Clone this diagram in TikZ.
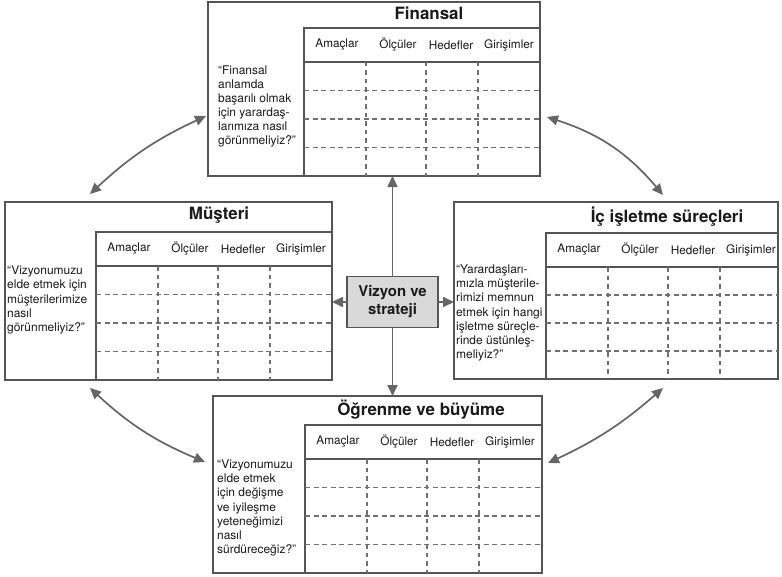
\documentclass[tikz,border=0pt]{standalone}
\usepackage{fontspec}
\setmainfont{TeX Gyre Heros}
\usetikzlibrary{arrows.meta}
\definecolor{framegray}{HTML}{555555}
\definecolor{arrgray}{HTML}{666666}
\definecolor{dashgray}{HTML}{707070}
\definecolor{centerfill}{HTML}{D9D9D9}
\definecolor{txt}{HTML}{1A1A1A}
\tikzset{
  >={Triangle[length=11bp,width=10bp]},
  panel/.style={draw=framegray, line width=1.4bp, anchor=north west, inner sep=0pt, outer sep=0pt},
  frame/.style={draw=framegray, line width=1.4bp},
  dashrow/.style={draw=dashgray, line width=1.2bp, dash pattern=on 5bp off 3.5bp},
  dashcol/.style={draw=dashgray, line width=1.2bp, dash pattern=on 4.5bp off 4bp},
  hdr/.style={text=txt, font=\fontsize{11.8}{14}\selectfont, inner sep=0pt},
  ttl/.style={text=txt, font=\fontsize{17}{20}\selectfont\bfseries, inner sep=0pt},
  quest/.style={text=txt, font=\fontsize{12}{14.2}\selectfont, align=left, anchor=west, inner sep=0pt},
  centerbox/.style={draw=framegray, fill=centerfill, line width=1.4bp, minimum width=91bp, minimum height=51bp, inner sep=0pt, outer sep=0pt, align=center, text=txt, font=\fontsize{15}{18}\selectfont\bfseries},
  arr/.style={draw=arrgray, line width=1.7bp, ->},
  dbl/.style={draw=arrgray, line width=1.7bp, <->},
}
\newcommand{\bsctable}[5]{%
  \pgfmathsetmacro\bscHB{#3+34}%
  \pgfmathsetmacro\bscRH{(#5-#3-34)/4}%
  \draw[frame] (#2,#5) -- (#2,#3) -- (#4,#3);
  \draw[frame] (#2,\bscHB) -- (#4,\bscHB);
  \foreach \k in {1,2,3} \draw[dashrow] (#2,{\bscHB+\k*\bscRH}) -- (#4,{\bscHB+\k*\bscRH});
  \foreach \c in {62,122,174} \draw[dashcol] ({#2+\c},\bscHB) -- ({#2+\c},#5);
  \node[hdr] (#1-a) at ({#2+33},{#3+17}) {Amaçlar};
  \node[hdr] (#1-b) at ({#2+94},{#3+17}) {Ölçüler};
  \node[hdr] (#1-c) at ({#2+147},{#3+17}) {Hedefler};
  \node[hdr] (#1-d) at ({#2+205},{#3+17}) {Girişimler};
}
\begin{document}
\begin{tikzpicture}[x=1bp,y=-1bp]
\useasboundingbox (0,0) rectangle (782,577);
\fill[white] (0,0) rectangle (782,577);

% panels
\node[panel, minimum width=332bp, minimum height=174bp] (fin) at (208,2) {};
\node[panel, minimum width=327bp, minimum height=178bp] (mus) at (5,202) {};
\node[panel, minimum width=324bp, minimum height=177bp] (ic) at (454,202) {};
\node[panel, minimum width=329bp, minimum height=177bp] (ogr) at (213,396) {};

% tables
\bsctable{fin}{304}{28}{540}{176}
\bsctable{mus}{96}{232}{332}{380}
\bsctable{ic}{546}{233}{778}{379}
\bsctable{ogr}{305}{425}{542}{573}

% titles
\node[ttl] (fin-t) at (429,13) {Finansal};
\node[ttl] (mus-t) at (219,215) {Müşteri};
\node[ttl] (ic-t) at (667,217) {İç işletme süreçleri};
\node[ttl] (ogr-t) at (421,410) {Öğrenme ve büyüme};

% questions
\node[quest] (fin-q) at (218,106.5) {“Finansal\\anlamda\\başarılı olmak\\için yarardaş-\\larımıza nasıl\\görünmeliyiz?”};
\node[quest] (mus-q) at (7,300) {“Vizyonumuzu\\elde etmek için\\müşterilerimize\\nasıl\\görünmeliyiz?”};
\node[quest] (ic-q) at (456,313) {“Yarardaşları-\\mızla müşterile-\\rimizi memnun\\etmek için hangi\\işletme süreçle-\\rinde üstünleş-\\meliyiz?”};
\node[quest] (ogr-q) at (217,508) {“Vizyonumuzu\\elde etmek\\için değişme\\ve iyileşme\\yeteneğimizi\\nasıl\\sürdüreceğiz?”};

% center
\node[centerbox] (vs) at (392.5,302) {Vizyon ve\\strateji};

% straight arrows
\draw[arr] (vs.north) -- (vs.north |- fin.south);
\draw[arr] (vs.south) -- (vs.south |- ogr.north);
\draw[arr] (vs.west) -- (vs.west -| mus.east);
\draw[arr] (vs.east) -- (vs.east -| ic.west);

% curved arrows
\coordinate (tl1) at (90,194);
\coordinate (tl2) at (206,116);
\coordinate (tr1) at (547,117);
\coordinate (tr2) at (663,195);
\coordinate (bl1) at (90,388);
\coordinate (bl2) at (205,462);
\coordinate (br1) at (548,463);
\coordinate (br2) at (663,388);
\draw[dbl] (tl1) to[bend left=9] (tl2);
\draw[dbl] (tr1) to[bend left=16] (tr2);
\draw[dbl] (bl1) to[bend right=10] (bl2);
\draw[dbl] (br1) to[bend right=8] (br2);
\end{tikzpicture}
\end{document}
